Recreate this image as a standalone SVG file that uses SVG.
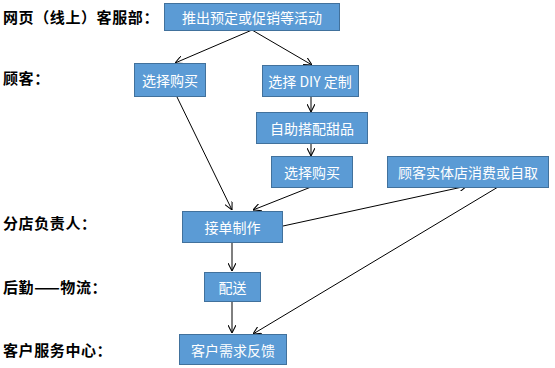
<svg xmlns="http://www.w3.org/2000/svg" width="555" height="368" viewBox="0 0 555 368">
<defs>
<style>
.box{fill:#5B9BD5;stroke:#41719C;stroke-width:1}
.bt{fill:#fff;font-family:"Noto Sans CJK SC","Microsoft YaHei",sans-serif;font-size:14px;text-anchor:middle;dominant-baseline:central}
.lab{fill:#000;font-family:"Noto Sans CJK SC",sans-serif;font-size:15px;font-weight:bold;letter-spacing:0.6px;dominant-baseline:central}
.c{stroke:#000;stroke-width:1;fill:none;marker-end:url(#ah)}
.g{stroke:#7f7f7f;stroke-width:2;fill:none;marker-end:url(#ah)}
</style>
<marker id="ah" viewBox="0 0 10 10" refX="10" refY="5" markerWidth="8" markerHeight="8" markerUnits="userSpaceOnUse" orient="auto">
<path d="M0,0 L10,5 L0,10" fill="none" stroke="#000" stroke-width="1.3"/>
</marker>
</defs>
<rect width="555" height="368" fill="#fff"/>
<g id="labels">
<text class="lab" x="3" y="16">网页（线上）客服部：</text>
<text class="lab" x="3" y="77">顾客：</text>
<text class="lab" x="3" y="222">分店负责人：</text>
<text class="lab" x="3" y="286">后勤——物流：</text>
<text class="lab" x="3" y="349">客户服务中心：</text>
</g>
<g id="connectors">
<path class="c" d="M252,30 L175,63"/>
<path class="c" d="M252,30 L312,65"/>
<path class="c" d="M311,96 L311,112"/>
<path class="c" d="M311,143 L311,156"/>
<path class="c" d="M177,97 L232,210"/>
<path class="c" d="M311,187 L253,210"/>
<path class="c" d="M283,226 L467,186"/>
<path class="g" d="M232,243 L232,271"/>
<path class="c" d="M232,301 L232,333"/>
<path class="c" d="M498,187 L253,334"/>
</g>
<g id="n1"><rect class="box" x="164.5" y="3.5" width="175" height="27"/><text class="bt" x="252" y="17">推出预定或促销等活动</text></g>
<g id="n2"><rect class="box" x="134.5" y="63.5" width="71" height="33"/><text class="bt" x="170" y="80">选择购买</text></g>
<g id="n3"><rect class="box" x="262.5" y="65.5" width="96" height="31"/><text class="bt" x="310" y="81">选择 DIY 定制</text></g>
<g id="n4"><rect class="box" x="256.5" y="112.5" width="111" height="31"/><text class="bt" x="312" y="128">自助搭配甜品</text></g>
<g id="n5"><rect class="box" x="271.5" y="156.5" width="81" height="31"/><text class="bt" x="312" y="172">选择购买</text></g>
<g id="n6"><rect class="box" x="387.5" y="156.5" width="161" height="31"/><text class="bt" x="468" y="172">顾客实体店消费或自取</text></g>
<g id="n7"><rect class="box" x="182.5" y="211.5" width="100" height="31"/><text class="bt" x="232.5" y="227">接单制作</text></g>
<g id="n8"><rect class="box" x="204.5" y="272.5" width="56" height="29"/><text class="bt" x="232.5" y="287">配送</text></g>
<g id="n9"><rect class="box" x="179.5" y="334.5" width="107" height="30"/><text class="bt" x="233" y="349.5">客户需求反馈</text></g>
</svg>
